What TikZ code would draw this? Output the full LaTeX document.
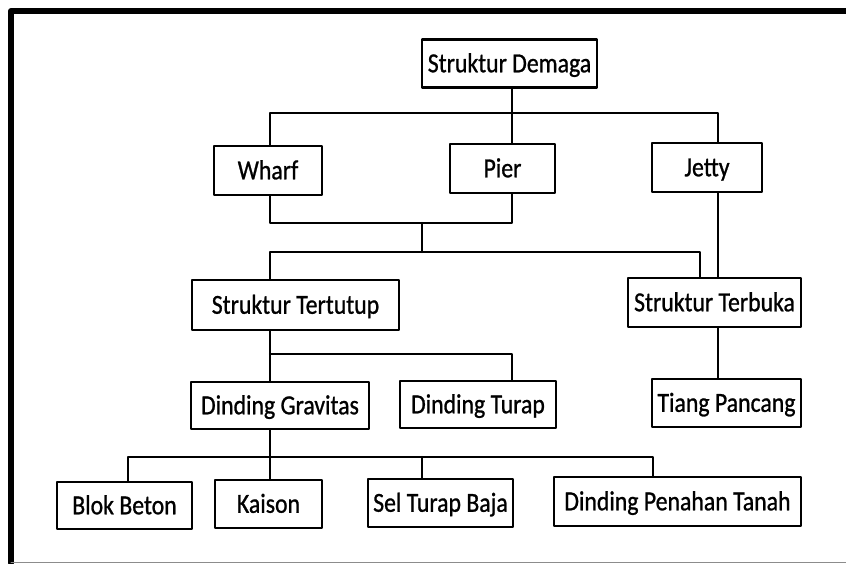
\documentclass[tikz,border=0pt]{standalone}
\usepackage{fontspec}
\setmainfont{Carlito}
\newfontfamily\boxfont{Carlito}[FakeBold=1.0]
\usepackage{graphicx}
\usepackage{tikz}
\definecolor{framegray}{rgb}{0.55,0.55,0.55}
\newcommand{\tallText}[1]{\scalebox{1.02}[1.18]{#1}}
\tikzset{box/.style={draw,line width=2.2pt,minimum height=48pt,inner sep=0pt,text height=17.5pt,text depth=0pt,font=\boxfont\fontsize{23.3}{28}\selectfont}}

\begin{document}
\begin{tikzpicture}[line cap=round,line join=round,x=1pt,y=-1pt,line width=2.2pt]
	\useasboundingbox (0,0) rectangle (846,563);
	\draw [line width=6pt] (11,563) -- (11,11) -- (846,11);
	\draw [color=framegray,line width=1pt] (11,562) -- (846,562);
	\node [box,minimum width=175pt] (demaga) at (509.5,63.5) {\tallText{Struktur Demaga}};
	\node [box,minimum width=108pt,minimum height=49pt] (wharf) at (268,170.5) {\tallText{Wharf}};
	\node [box,minimum width=105pt,minimum height=49pt] (pier) at (502.5,168.5) {\tallText{Pier}};
	\node [box,minimum width=110pt,minimum height=49pt] (jetty) at (707,167.5) {\tallText{Jetty}};
	\node [box,minimum width=207pt,minimum height=50pt] (tertutup) at (295.5,305) {\tallText{Struktur Tertutup}};
	\node [box,minimum width=173pt,minimum height=49pt] (terbuka) at (714.5,302.5) {\tallText{Struktur Terbuka}};
	\node [box,minimum width=178pt,minimum height=47pt] (gravitas) at (280,405.5) {\tallText{Dinding Gravitas}};
	\node [box,minimum width=156pt,minimum height=47pt] (turap) at (478,404.5) {\tallText{Dinding Turap}};
	\node [box,minimum width=149pt] (tiang) at (726.5,403) {\tallText{Tiang Pancang}};
	\node [box,minimum width=135pt,minimum height=47pt] (blok) at (124.5,505.5) {\tallText{Blok Beton}};
	\node [box,minimum width=107pt] (kaison) at (268.5,504) {\tallText{Kaison}};
	\node [box,minimum width=145pt] (selturap) at (440.5,503) {\tallText{Sel Turap Baja}};
	\node [box,minimum width=247pt,minimum height=49pt] (penahan) at (677.5,501.5) {\tallText{Dinding Penahan Tanah}};
	% columns and rows of the connectors
	\coordinate (xa) at (128,0);
	\coordinate (xb) at (270,0);
	\coordinate (xc) at (422,0);
	\coordinate (xd) at (512,0);
	\coordinate (xe) at (653,0);
	\coordinate (xf) at (700,0);
	\coordinate (xg) at (718,0);
	\coordinate (ya) at (0,113);
	\coordinate (yb) at (0,223);
	\coordinate (yc) at (0,252);
	\coordinate (yd) at (0,354);
	\coordinate (ye) at (0,457);
	\draw (demaga.south -| xd) -- (pier.north -| xd);
	\draw (wharf.north -| xb) -- (xb |- ya) -- (xg |- ya) -- (jetty.north -| xg);
	\draw (wharf.south -| xb) -- (xb |- yb) -- (xd |- yb) -- (pier.south -| xd);
	\draw (xc |- yb) -- (xc |- yc);
	\draw (tertutup.north -| xb) -- (xb |- yc) -- (xf |- yc) -- (terbuka.north -| xf);
	\draw (jetty.south -| xg) -- (terbuka.north -| xg);
	\draw (terbuka.south -| xg) -- (tiang.north -| xg);
	\draw (tertutup.south -| xb) -- (gravitas.north -| xb);
	\draw (xb |- yd) -- (xd |- yd) -- (turap.north -| xd);
	\draw (gravitas.south -| xb) -- (kaison.north -| xb);
	\draw (blok.north -| xa) -- (xa |- ye) -- (xe |- ye) -- (penahan.north -| xe);
	\draw (xc |- ye) -- (selturap.north -| xc);
\end{tikzpicture}
\end{document}
